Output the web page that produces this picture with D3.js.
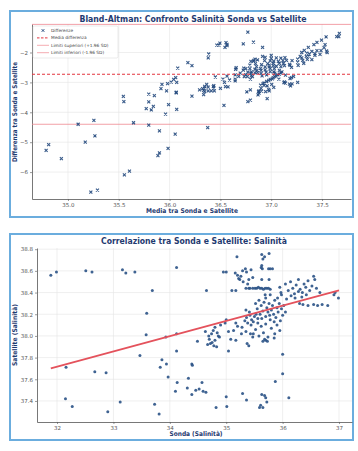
<!DOCTYPE html>
<html>
<head>
<meta charset="utf-8">
<script src="https://cdn.jsdelivr.net/npm/d3@7"></script>
<style>
  body { margin: 0; background: #fff; }
  svg { display: block; font-family: "DejaVu Sans", sans-serif; }
</style>
</head>
<body>
<svg id="chart" width="358" height="451"></svg>
<script>
// paired salinity readings (probe vs satellite)
const sonda = [
  31.89, 31.99, 32.51, 32.62, 33.16, 33.22, 33.38, 33.69, 33.59, 33.58,
  33.93, 34.12, 32.16, 32.15, 32.27, 32.67, 32.87, 32.90, 33.12, 33.47,
  33.73, 33.81, 33.86, 33.83, 33.94, 33.97, 34.10, 34.13, 34.12, 34.12,
  34.33, 34.39, 34.40, 34.57, 34.31, 34.39, 34.46, 34.52, 34.59, 34.64,
  34.49, 34.82, 35.01, 35.00, 35.29, 35.36, 35.61, 35.65, 35.68, 35.70,
  35.72, 35.63, 35.59, 36.11, 36.00, 35.87, 36.00, 35.04, 34.88, 35.17,
  35.37, 35.65, 35.70, 35.73, 35.85, 34.67, 34.70, 34.72, 34.75, 34.78,
  34.80, 34.83, 34.74, 34.77, 34.80, 34.84, 34.86, 34.69, 34.63, 34.90,
  34.98, 35.00, 35.08, 35.13, 35.17, 35.20, 35.04, 35.27, 35.40, 35.43,
  35.47, 35.33, 35.36, 35.38, 35.42, 35.45, 35.48, 35.50, 35.53, 35.56,
  35.41, 35.35, 35.19, 35.63, 35.65, 35.68, 35.76, 35.63, 35.64, 35.62,
  35.75, 35.78, 35.82, 34.95, 35.00, 35.16, 35.20, 35.22, 35.26, 35.29,
  35.34, 35.36, 35.30, 35.40, 35.44, 35.47, 35.24, 35.63, 35.76, 35.38,
  35.42, 34.65, 35.10, 35.17, 35.35, 35.40, 35.47, 35.51, 35.54, 35.57,
  35.60, 35.63, 35.66, 35.69, 35.72, 35.75, 35.78, 35.69, 35.78, 35.95,
  35.97, 35.98, 36.05, 36.10, 36.14, 36.18, 36.21, 36.24, 36.28, 36.31,
  36.35, 36.38, 36.41, 36.45, 36.48, 36.52, 36.55, 36.60, 36.22, 36.15,
  36.34, 36.07, 36.42, 36.28, 36.93, 36.99, 36.91, 36.36, 36.45, 36.55,
  36.62, 36.70, 36.80, 36.30, 36.66, 36.57, 35.52, 35.55, 35.58, 35.60,
  35.62, 35.65, 35.67, 35.70, 35.72, 35.74, 35.76, 35.78, 35.80, 35.82,
  35.84, 35.86, 35.88, 35.90, 35.92, 35.94, 35.96, 35.98, 36.00, 36.02,
  35.70, 35.85, 35.77, 35.63, 35.91, 36.05, 35.28, 35.35, 35.44, 35.52,
  35.58, 35.62, 35.66, 35.70, 35.74, 35.80, 35.86, 35.90, 35.95, 35.56, 35.48, 35.68
];
const satellite = [
  38.56, 38.59, 38.60, 38.59, 38.61, 38.58, 38.59, 38.42, 38.21, 38.01,
  37.99, 38.63, 37.71, 37.42, 37.35, 37.67, 37.66, 37.30, 37.39, 37.82,
  37.37, 37.28, 37.78, 37.71, 37.74, 37.62, 37.49, 37.57, 37.86, 38.02,
  37.61, 37.74, 37.73, 37.57, 37.52, 37.46, 37.50, 37.51, 37.49, 37.48,
  37.95, 37.34, 37.35, 37.44, 37.47, 37.41, 37.36, 37.34, 37.45, 37.43,
  37.39, 37.46, 37.34, 37.43, 37.65, 37.58, 37.83, 37.86, 37.99, 37.96,
  37.93, 37.95, 37.96, 37.95, 37.98, 37.92, 37.97, 37.93, 37.94, 37.91,
  37.96, 37.90, 38.02, 38.05, 38.08, 38.03, 38.00, 38.00, 38.04, 38.10,
  38.12, 38.15, 37.97, 38.05, 38.12, 38.09, 38.04, 38.02, 37.91, 38.02,
  37.99, 38.14, 38.17, 38.12, 38.19, 38.15, 38.13, 38.18, 38.20, 38.16,
  38.22, 38.24, 38.73, 38.75, 38.71, 38.73, 38.76, 38.65, 38.62, 38.63,
  38.62, 38.62, 38.62, 38.59, 38.59, 38.58, 38.56, 38.53, 38.55, 38.60,
  38.62, 38.59, 38.50, 38.52, 38.61, 38.54, 38.52, 38.52, 38.52, 38.48,
  38.44, 38.42, 38.42, 38.42, 38.44, 38.44, 38.44, 38.44, 38.44, 38.45,
  38.44, 38.44, 38.43, 38.44, 38.44, 38.44, 38.43, 38.38, 38.38, 38.45,
  38.40, 38.38, 38.48, 38.42, 38.50, 38.44, 38.39, 38.47, 38.52, 38.43,
  38.40, 38.48, 38.45, 38.51, 38.42, 38.46, 38.55, 38.44, 38.35, 38.37,
  38.36, 38.34, 38.38, 38.41, 38.40, 38.35, 38.38, 38.29, 38.28, 38.29,
  38.28, 38.29, 38.28, 38.30, 38.40, 38.52, 38.30, 38.25, 38.33, 38.20,
  38.28, 38.23, 38.31, 38.18, 38.26, 38.22, 38.30, 38.15, 38.24, 38.28,
  38.20, 38.33, 38.17, 38.26, 38.22, 38.30, 38.14, 38.25, 38.19, 38.28,
  38.35, 38.13, 38.19, 38.16, 38.35, 38.22, 38.08, 38.04, 38.10, 38.06,
  38.00, 38.09, 38.03, 38.11, 37.99, 38.07, 38.02, 38.10, 38.05, 38.12, 38.02, 37.97
];

// Bland-Altman reference lines
const meanDiff = -2.73;
const upperLimit = -1.06;
const lowerLimit = -4.40;

// regression line endpoints
const fitSonda = [31.89, 37.0];
const fitSatellite = [37.70, 38.42];

const baXTicks = [35.0, 35.5, 36.0, 36.5, 37.0, 37.5];
const baYTicks = [-2, -3, -4, -5, -6];
const corrXTicks = [32, 33, 34, 35, 36, 37];
const corrYTicks = [37.4, 37.6, 37.8, 38.0, 38.2, 38.4, 38.6, 38.8];
const legendLabels = ["Differenze", "Media differenza", "Limiti superiori (+1.96 SD)", "Limiti inferiori (-1.96 SD)"];

const navy = "#1f3a70";
const markColor = "#23497d";
const svg = d3.select("#chart");

function frame(y) {
  svg.append("rect")
    .attr("x", 10).attr("y", y)
    .attr("width", 343).attr("height", 206)
    .attr("fill", "#fff")
    .attr("stroke", "#6badde")
    .attr("stroke-width", 2);
}

function drawAxes(x, y, xTicks, yTicks, xFmt, yFmt) {
  const [x0, x1] = x.range();
  const [y0, y1] = y.range();
  const g = svg.append("g");
  g.selectAll(".gx").data(xTicks).join("line")
    .attr("x1", d => x(d)).attr("x2", d => x(d))
    .attr("y1", y0).attr("y2", y1)
    .attr("stroke", "#e4e4e4").attr("stroke-width", 0.6);
  g.selectAll(".gy").data(yTicks).join("line")
    .attr("y1", d => y(d)).attr("y2", d => y(d))
    .attr("x1", x0).attr("x2", x1)
    .attr("stroke", "#e4e4e4").attr("stroke-width", 0.6);

  const xa = svg.append("g")
    .attr("transform", `translate(0,${y0})`)
    .call(d3.axisBottom(x).tickValues(xTicks).tickFormat(xFmt).tickSize(2).tickSizeOuter(0).tickPadding(2.5));
  const ya = svg.append("g")
    .attr("transform", `translate(${x0},0)`)
    .call(d3.axisLeft(y).tickValues(yTicks).tickFormat(yFmt).tickSize(2).tickSizeOuter(0).tickPadding(2));
  [xa, ya].forEach(a => {
    a.select(".domain").attr("stroke", "#555").attr("stroke-width", 0.8);
    a.selectAll(".tick line").attr("stroke", "#555").attr("stroke-width", 0.6);
    a.selectAll(".tick text").attr("fill", "#555").attr("font-size", 5.5).attr("font-family", "DejaVu Sans");
  });
}

function label(text, x, y, len, size, rotate) {
  svg.append("text")
    .attr("transform", `translate(${x},${y})` + (rotate ? " rotate(-90)" : ""))
    .attr("text-anchor", "middle")
    .attr("font-weight", "bold")
    .attr("font-size", size)
    .attr("fill", navy)
    .attr("textLength", len)
    .attr("lengthAdjust", "spacingAndGlyphs")
    .text(text);
}

// ---------- Bland-Altman ----------
frame(11);
const baMean = sonda.map((s, i) => (s + satellite[i]) / 2);
const baDiff = sonda.map((s, i) => s - satellite[i]);

const xBA = d3.scaleLinear().domain([34.646, 37.785]).range([32, 351]);
const yBA = d3.scaleLinear().domain([-6.90, -1.047]).range([199, 24]);
drawAxes(xBA, yBA, baXTicks, baYTicks, d3.format(".1f"), d3.format("d"));

svg.append("line")
  .attr("x1", 32).attr("x2", 351)
  .attr("y1", yBA(upperLimit)).attr("y2", yBA(upperLimit))
  .attr("stroke", "#f08890").attr("stroke-width", 0.8);
svg.append("line")
  .attr("x1", 32).attr("x2", 351)
  .attr("y1", yBA(lowerLimit)).attr("y2", yBA(lowerLimit))
  .attr("stroke", "#f08890").attr("stroke-width", 0.8);

svg.append("g").selectAll("path").data(baMean).join("path")
  .attr("transform", (d, i) => `translate(${xBA(d)},${yBA(baDiff[i])})`)
  .attr("d", "M-1.5,-1.5L1.5,1.5M-1.5,1.5L1.5,-1.5")
  .attr("stroke", markColor)
  .attr("stroke-width", 1.1)
  .attr("fill", "none")
  .attr("opacity", 0.9);

svg.append("line")
  .attr("x1", 32).attr("x2", 351)
  .attr("y1", yBA(meanDiff)).attr("y2", yBA(meanDiff))
  .attr("stroke", "#e3343f").attr("stroke-width", 1.1)
  .attr("stroke-dasharray", "3,2");

// legend
const lg = svg.append("g").attr("transform", "translate(33,26)");
lg.append("rect").attr("width", 85).attr("height", 32).attr("rx", 1.5)
  .attr("fill", "#fff").attr("fill-opacity", 0.85)
  .attr("stroke", "#d6d6d6").attr("stroke-width", 0.5);
legendLabels.forEach((t, i) => {
  const ly = 4.5 + i * 7.4;
  if (i === 0) {
    lg.append("path").attr("transform", `translate(10,${ly})`)
      .attr("d", "M-1.3,-1.3L1.3,1.3M-1.3,1.3L1.3,-1.3")
      .attr("stroke", markColor).attr("stroke-width", 1).attr("fill", "none");
  } else {
    lg.append("line").attr("x1", 4).attr("x2", 16).attr("y1", ly).attr("y2", ly)
      .attr("stroke", i === 1 ? "#e3343f" : "#f08890")
      .attr("stroke-width", i === 1 ? 1 : 0.7)
      .attr("stroke-dasharray", i === 1 ? "2.5,1.5" : null);
  }
  lg.append("text").attr("x", 18).attr("y", ly + 1.5)
    .attr("font-size", 4.3).attr("fill", "#444").text(t);
});

label("Bland-Altman: Confronto Salinità Sonda vs Satellite", 193, 22, 227, 8);
label("Media tra Sonda e Satellite", 192, 213, 92, 6.5);
label("Differenza tra Sonda e Satellite", 17, 112, 100, 6.5, true);

// ---------- Correlation ----------
frame(234);
const xC = d3.scaleLinear().domain([31.645, 37.23]).range([37, 352]);
const yC = d3.scaleLinear().domain([37.206, 38.811]).range([422, 248]);
drawAxes(xC, yC, corrXTicks, corrYTicks, d3.format("d"), d3.format(".1f"));

svg.append("g").selectAll("circle").data(sonda).join("circle")
  .attr("cx", d => xC(d))
  .attr("cy", (d, i) => yC(satellite[i]))
  .attr("r", 1.5)
  .attr("fill", "#2a5286")
  .attr("opacity", 0.9);

svg.append("path")
  .datum(fitSonda.map((s, i) => [s, fitSatellite[i]]))
  .attr("d", d3.line().x(d => xC(d[0])).y(d => yC(d[1])))
  .attr("stroke", "#e4525c").attr("stroke-width", 1.8).attr("fill", "none");

label("Correlazione tra Sonda e Satellite: Salinità", 194, 244, 186, 8);
label("Sonda (Salinità)", 196, 436, 53, 6.5);
label("Satellite (Salinità)", 17, 335, 62, 6.5, true);
</script>
</body>
</html>
